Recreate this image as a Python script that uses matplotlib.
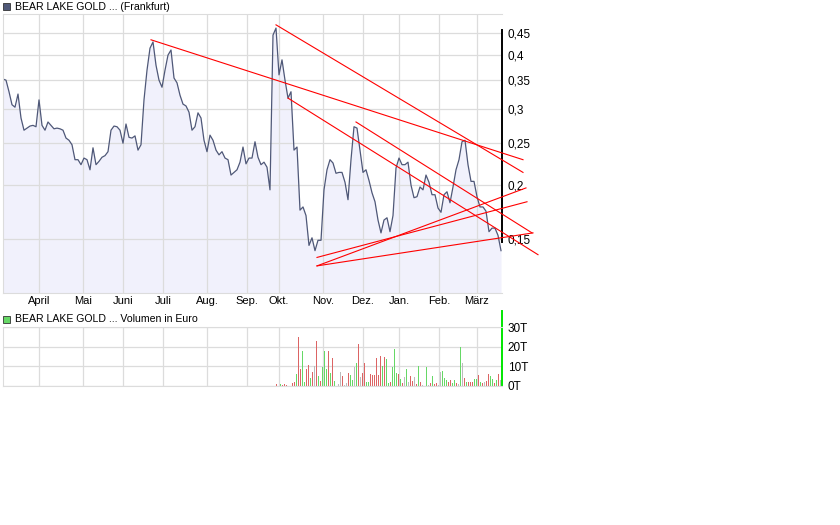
import numpy as np
import matplotlib
matplotlib.use('Agg')
import matplotlib.pyplot as plt
from matplotlib.patches import Rectangle
from matplotlib.ticker import FixedLocator, FuncFormatter, NullLocator, NullFormatter

plt.rcParams['font.family'] = ['Liberation Sans', 'DejaVu Sans']
plt.rcParams['font.size'] = 8

# closing prices, one value every 1.5 trading days
price = [0.352, 0.350, 0.329, 0.307, 0.303, 0.325, 0.286, 0.268, 0.271, 0.274,
         0.275, 0.273, 0.315, 0.275, 0.268, 0.280, 0.275, 0.270, 0.271, 0.270,
         0.268, 0.257, 0.254, 0.248, 0.229, 0.229, 0.223, 0.231, 0.229, 0.217,
         0.244, 0.223, 0.227, 0.232, 0.234, 0.239, 0.268, 0.274, 0.273, 0.268,
         0.250, 0.277, 0.258, 0.257, 0.260, 0.241, 0.248, 0.315, 0.369, 0.415,
         0.429, 0.379, 0.350, 0.337, 0.369, 0.400, 0.411, 0.354, 0.345, 0.323,
         0.308, 0.305, 0.295, 0.268, 0.273, 0.294, 0.286, 0.254, 0.239, 0.261,
         0.254, 0.241, 0.235, 0.239, 0.231, 0.229, 0.211, 0.214, 0.217, 0.226,
         0.245, 0.224, 0.231, 0.231, 0.252, 0.232, 0.223, 0.226, 0.220, 0.195,
         0.445, 0.462, 0.360, 0.390, 0.350, 0.318, 0.329, 0.241, 0.245, 0.175,
         0.178, 0.170, 0.145, 0.151, 0.141, 0.149, 0.149, 0.195, 0.217, 0.229,
         0.225, 0.213, 0.214, 0.214, 0.203, 0.185, 0.229, 0.273, 0.271, 0.241,
         0.214, 0.217, 0.205, 0.192, 0.183, 0.166, 0.155, 0.166, 0.168, 0.156,
         0.170, 0.219, 0.231, 0.223, 0.223, 0.226, 0.200, 0.187, 0.188, 0.198,
         0.195, 0.211, 0.203, 0.190, 0.190, 0.177, 0.173, 0.190, 0.193, 0.182,
         0.198, 0.217, 0.229, 0.252, 0.254, 0.223, 0.204, 0.204, 0.188, 0.178,
         0.178, 0.174, 0.156, 0.159, 0.159, 0.153, 0.141]

# daily volume in thousand euro (T), from trading day 137 on
volume = [1.0, 0, 1.0, 0.7, 1.0, 0.5, 0, 0, 1.5, 2.0,
          6.0, 24.7, 8.5, 17.7, 2.0, 8.5, 10.5, 4.0, 7.0, 10.0,
          23.0, 5.0, 2.5, 9.7, 17.7, 8.8, 17.7, 6.7, 14.3, 2.5,
          0, 1.0, 7.0, 5.0, 0.7, 1.3, 6.5, 5.5, 3.3, 9.7,
          11.5, 21.5, 4.5, 6.5, 11.5, 2.0, 2.0, 6.0, 5.5, 5.5,
          14.0, 5.5, 15.5, 10.0, 14.5, 13.5, 1.7, 2.2, 9.7, 19.0,
          6.5, 6.0, 3.8, 1.3, 4.7, 8.5, 1.8, 5.0, 2.5, 4.7,
          0.8, 10.0, 1.8, 0.5, 0, 9.7, 0.5, 1.3, 5.0, 1.0,
          1.3, 0.5, 7.2, 7.5, 4.2, 3.0, 1.8, 3.0, 1.3, 3.0,
          1.3, 0.8, 20.0, 11.7, 4.2, 1.8, 2.2, 2.2, 2.2, 3.5,
          3.5, 5.5, 2.2, 1.3, 1.8, 2.5, 6.0, 5.0, 3.8, 1.3,
          3.0, 6.3, 3.0]
# r = down day, g = up day, n = unchanged
volume_dir = ("rngrrrnnrr" "grrggrrgrn" "rgrgggrgrg" "nnnrnnrggn" "grnrrggrrr"
              "rrrgrggrgg" "grgrngnrrn" "rgrnngnrgr" "rnngggrrgg" "rngnrgrrrg"
              "grgrnrrggr" "grn")
volume_start = 137

month_days = [18, 40, 60, 80, 102, 122, 138, 160, 180, 198, 218, 237]
month_labels = ['April', 'Mai', 'Juni', 'Juli', 'Aug.', 'Sep.', 'Okt.',
                'Nov.', 'Dez.', 'Jan.', 'Feb.', 'März']
price_ticks = [0.15, 0.2, 0.25, 0.3, 0.35, 0.4, 0.45]
volume_ticks = [0, 10, 20, 30]

# hand drawn trend lines: (day, price) -> (day, price)
trend_lines = [((74, 0.434), (260, 0.229)),
               ((136.5, 0.470), (260, 0.214)),
               ((142.5, 0.318), (267.5, 0.138)),
               ((176.5, 0.280), (264.5, 0.155)),
               ((157, 0.130), (265, 0.155)),
               ((157, 0.130), (261.5, 0.197)),
               ((157, 0.136), (262, 0.183))]

line_col = '#4f5878'
grid_col = '#dcdcdc'
colors = {'r': '#dc6464', 'g': '#66d866', 'n': '#bcbcbc'}

fig = plt.figure(figsize=(8.4, 5.25), dpi=100)
W, H = 840, 525

# price panel
ax = fig.add_axes([3 / W, 1 - 293 / H, 499 / W, 279 / H])
days = np.arange(len(price)) * 1.5
ax.set_yscale('log')
ax.fill_between(days, price, 0.05, color='#f1f1fc', lw=0, zorder=0.2)
ax.plot(days, price, color=line_col, lw=0.9, zorder=2)
for (x0, y0), (x1, y1) in trend_lines:
    ax.plot([x0, x1], [y0, y1], color='#ff0000', lw=0.8, clip_on=False, zorder=3)

ax.set_xlim(0, 249.5)
ax.set_ylim(0.1125, 0.498)
ax.yaxis.set_major_locator(FixedLocator(price_ticks))
ax.yaxis.set_major_formatter(FuncFormatter(lambda v, p: f'{v:g}'.replace('.', ',')))
ax.yaxis.set_minor_locator(NullLocator())
ax.yaxis.set_minor_formatter(NullFormatter())
ax.yaxis.tick_right()
ax.set_xticks(month_days, month_labels)
ax.tick_params(axis='x', length=0, pad=2, labelsize=8)
ax.tick_params(axis='y', length=0, pad=4, labelsize=8.5)
ax.set_axisbelow(True)
ax.grid(True, color=grid_col, lw=0.9)
for s in ['left', 'top', 'bottom']:
    ax.spines[s].set_color(grid_col)
ax.spines['right'].set_color('black')
ax.spines['right'].set_linewidth(1.4)
ax.spines['right'].set_bounds(0.148, 0.457)

# volume panel
ax2 = fig.add_axes([3 / W, 1 - 386 / H, 499 / W, 59 / H])
vdays = volume_start + np.arange(len(volume))
ax2.bar(vdays, volume, width=0.5, color=[colors[c] for c in volume_dir], lw=0,
        antialiased=False)
ax2.set_xlim(0, 249.5)
ax2.set_ylim(0, 30)
ax2.set_xticks(month_days)
ax2.set_xticklabels([])
ax2.set_yticks(volume_ticks, [f'{v}T' for v in volume_ticks])
ax2.yaxis.tick_right()
ax2.tick_params(axis='both', length=0)
ax2.tick_params(axis='y', pad=4, labelsize=8.5)
ax2.set_axisbelow(True)
ax2.grid(True, color=grid_col, lw=0.9)
for s in ['left', 'top', 'bottom']:
    ax2.spines[s].set_color(grid_col)
ax2.spines['right'].set_color('#00e600')
ax2.spines['right'].set_linewidth(1.4)
ax2.spines['right'].set_bounds(0, 38)

# headers
fig.add_artist(Rectangle((3 / W, 1 - 10 / H), 7 / W, 7 / H, transform=fig.transFigure,
                         facecolor=line_col, edgecolor='#333333', lw=0.6))
fig.text(15 / W, 1 - 6.5 / H, 'BEAR LAKE GOLD ... (Frankfurt)', va='center', ha='left',
         fontsize=7.6)
fig.add_artist(Rectangle((3 / W, 1 - 323 / H), 7 / W, 7 / H, transform=fig.transFigure,
                         facecolor='#66d866', edgecolor='#333333', lw=0.6))
fig.text(15 / W, 1 - 319.5 / H, 'BEAR LAKE GOLD ... Volumen in Euro', va='center', ha='left',
         fontsize=7.6)

fig.savefig('out.png', dpi=100)
